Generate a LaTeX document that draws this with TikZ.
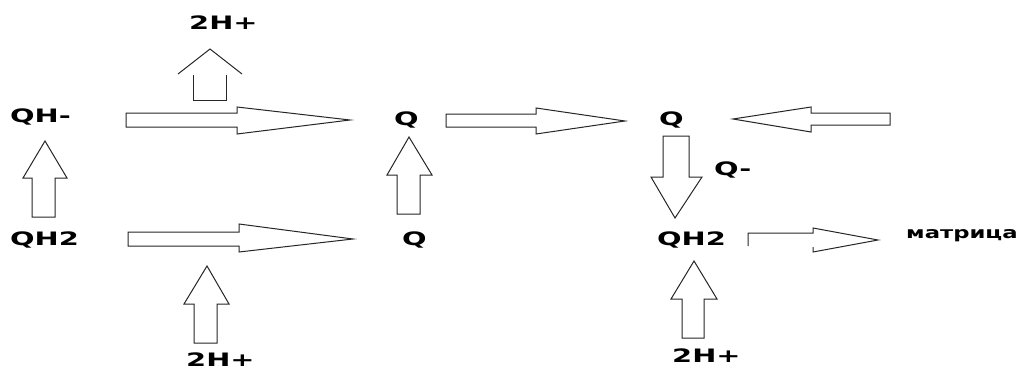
\documentclass[tikz,border=0pt]{standalone}
\usepackage{fontspec}
\newfontfamily\lblfont{DejaVu Sans}
\newcommand{\wide}[1]{\scalebox{1.56}[1]{#1}}
\tikzset{
  lbl/.style={anchor=base west, inner sep=0pt, font=\lblfont\fontsize{18.5}{18.5}\selectfont\bfseries},
  smalllbl/.style={lbl, font=\lblfont\fontsize{16}{16}\selectfont\bfseries},
  blk/.style={draw=black!85, line width=1pt, line join=miter, fill=white}
}
\begin{document}
\begin{tikzpicture}[x=1pt,y=-1pt]
  \useasboundingbox (0,0) rectangle (1025,369);

  % species labels
  \node[lbl] (qhm)  at (10,122)  {\wide{QH-}};
  \node[lbl] (qh2a) at (10,245)  {\wide{QH2}};
  \node[lbl] (hout) at (189,30)  {\wide{2H+}};
  \node[lbl] (hinA) at (186,366) {\wide{2H+}};
  \node[lbl] (qa)   at (394,125) {\wide{Q}};
  \node[lbl] (qb)   at (402,245) {\wide{Q}};
  \node[lbl] (qc)   at (659,125) {\wide{Q}};
  \node[lbl] (qm)   at (714,175) {\wide{Q-}};
  \node[lbl] (qh2b) at (657,245) {\wide{QH2}};
  \node[lbl] (hinB) at (672,362) {\wide{2H+}};
  \node[smalllbl] (mat) at (906,238) {\scalebox{1.42}[1]{матрица}};

  % QH- -> Q
  \draw[blk] (126,113) -- (237,113) -- (237,107) -- (350,120) -- (237,134) -- (237,127) -- (126,127) -- cycle;
  % protons released upward (open outline)
  \draw[blk, fill=none] (193,75) -- (193,100) -- (226,100) -- (226,75);
  \draw[blk, fill=none] (178,74) -- (210,49) -- (242,74);
  % QH2 -> QH-
  \draw[blk] (32,217) -- (32,178) -- (23,178) -- (45,141) -- (67,178) -- (55,178) -- (55,217) -- cycle;
  % QH2 -> Q
  \draw[blk] (128,232) -- (239,232) -- (239,224) -- (353,239) -- (239,252) -- (239,246) -- (128,246) -- cycle;
  % protons taken up, left
  \draw[blk] (194,343) -- (194,304) -- (184,304) -- (207,266) -- (229,304) -- (217,304) -- (217,343) -- cycle;
  % Q -> Q (vertical, middle)
  \draw[blk] (397,214) -- (397,175) -- (387,175) -- (409,137) -- (432,175) -- (420,175) -- (420,214) -- cycle;
  % Q -> Q (horizontal, middle)
  \draw[blk] (446,114) -- (536,114) -- (536,108) -- (625,121) -- (536,134) -- (536,127) -- (446,127) -- cycle;
  % incoming from the right
  \draw[blk] (890,113) -- (811,113) -- (811,107) -- (733,119) -- (811,132) -- (811,125) -- (890,125) -- cycle;
  % Q -> QH2 (via Q-)
  \draw[blk] (663,136) -- (663,177) -- (651,177) -- (675,218) -- (702,177) -- (689,177) -- (689,136) -- cycle;
  % QH2 -> matrix (open outline)
  \draw[blk, fill=none] (748,246) -- (748,233) -- (813,233) -- (813,228) -- (878,240) -- (813,252) -- (813,247);
  % protons taken up, right
  \draw[blk] (682,338) -- (682,299) -- (671,299) -- (694,261) -- (717,299) -- (704,299) -- (704,338) -- cycle;
\end{tikzpicture}
\end{document}
